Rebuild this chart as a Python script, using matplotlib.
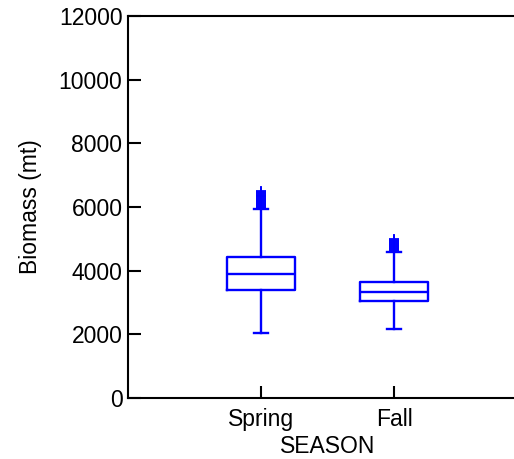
import matplotlib
matplotlib.use("Agg")
import matplotlib.pyplot as plt

plt.rcParams['font.family'] = ['Liberation Sans', 'DejaVu Sans']

seasons = ['Spring', 'Fall']
q1 = [3405, 3040]
med = [3910, 3330]
q3 = [4440, 3655]
whislo = [2045, 2160]
whishi = [5940, 4600]
fliers_spring = [5970, 6000, 6030, 6060, 6090, 6120, 6150, 6180, 6210, 6240, 6270,
                 6300, 6330, 6360, 6390, 6420, 6450, 6480, 6500]
fliers_fall = [4620, 4650, 4680, 4710, 4740, 4770, 4800, 4830, 4860, 4890,
               4920, 4950, 4980]

BLUE = '#0000ff'

stats = []
for i, name in enumerate(seasons):
    stats.append({
        'label': name,
        'q1': q1[i], 'med': med[i], 'q3': q3[i],
        'whislo': whislo[i], 'whishi': whishi[i],
        'fliers': [fliers_spring, fliers_fall][i],
    })

fig = plt.figure(figsize=(5.14, 4.59), dpi=100)
ax = fig.add_axes([128 / 514, 61 / 459, 399 / 514, 382 / 459])

lp = dict(color=BLUE, linewidth=1.7)
ax.bxp(stats, positions=[1, 2], widths=0.51, capwidths=0.11,
       boxprops=lp, medianprops=lp, whiskerprops=lp, capprops=lp,
       flierprops=dict(marker='+', markeredgecolor=BLUE, markersize=7,
                       markeredgewidth=1.3, linestyle='none'))

ax.set_xlim(0, 3)
ax.set_ylim(0, 12000)
ax.set_yticks(range(0, 12001, 2000))
ax.set_xticks([1, 2])
ax.set_xticklabels(seasons)
ax.set_xlabel('SEASON', fontsize=16.5, labelpad=3)
ax.set_ylabel('Biomass (mt)', fontsize=16.5, labelpad=12)

ax.spines['right'].set_visible(False)
for s in ['left', 'bottom', 'top']:
    ax.spines[s].set_linewidth(1.5)
ax.tick_params(direction='in', length=9, width=1.5, labelsize=16.5, pad=4)
ax.tick_params(axis='x', pad=7)

fig.savefig('out.png', dpi=100)
